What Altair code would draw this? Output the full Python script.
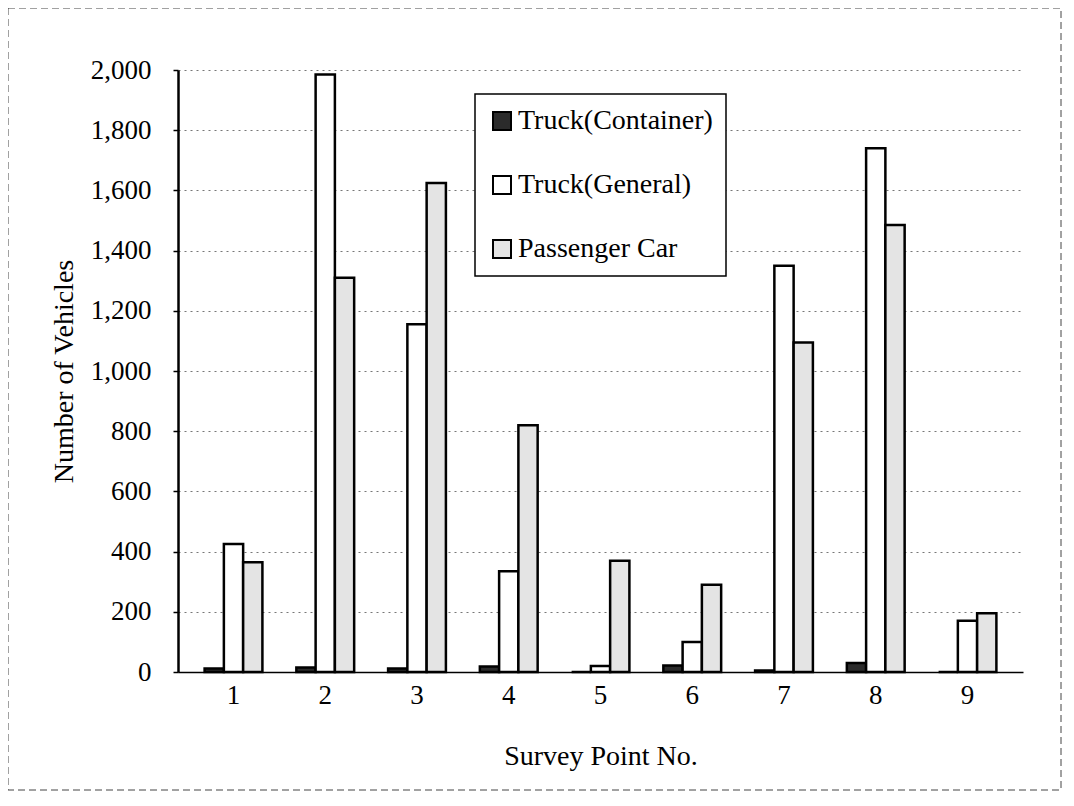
import altair as alt
import pandas as pd

points = ["1", "2", "3", "4", "5", "6", "7", "8", "9"]
series = ["Truck(Container)", "Truck(General)", "Passenger Car"]
container = [12, 15, 12, 18, 0, 22, 5, 30, 0]
general = [425, 1985, 1155, 335, 20, 100, 1350, 1740, 170]
passenger = [365, 1310, 1625, 820, 370, 290, 1095, 1485, 195]
y_ticks = [0, 200, 400, 600, 800, 1000, 1200, 1400, 1600, 1800, 2000]

rows = []
for i, p in enumerate(points):
    for s, vals in zip(series, [container, general, passenger]):
        rows.append({"point": p, "series": s, "value": vals[i]})
df = pd.DataFrame(rows)

W, H = 845, 602
serif = "Liberation Serif"

bars = alt.Chart(df).mark_bar(stroke="black", strokeWidth=2.5, strokeJoin="miter").encode(
    x=alt.X(
        "point:N",
        sort=points,
        scale=alt.Scale(paddingInner=0.37, paddingOuter=0.29),
        axis=alt.Axis(
            title="Survey Point No.",
            labelAngle=0,
            labelFont=serif,
            labelFontSize=27,
            labelColor="black",
            labelPadding=10,
            ticks=False,
            domainColor="black",
            domainWidth=1.5,
            titleFont=serif,
            titleFontSize=28,
            titleFontWeight="normal",
            titleColor="black",
            titlePadding=34,
        ),
    ),
    xOffset=alt.XOffset("series:N", sort=series, scale=alt.Scale(paddingInner=0, paddingOuter=0)),
    y=alt.Y(
        "value:Q",
        scale=alt.Scale(domain=[0, 2000], nice=False),
        axis=alt.Axis(
            title="Number of Vehicles",
            values=y_ticks,
            format=",.0f",
            labelFont=serif,
            labelFontSize=27,
            labelColor="black",
            labelPadding=22,
            tickColor="black",
            tickSize=5,
            tickWidth=1.5,
            domainColor="black",
            domainWidth=2.5,
            grid=True,
            gridColor="#777777",
            gridDash=[2, 4],
            gridWidth=1,
            titleFont=serif,
            titleFontSize=28,
            titleFontWeight="normal",
            titleColor="black",
            titlePadding=12,
        ),
    ),
    color=alt.Color(
        "series:N",
        sort=series,
        scale=alt.Scale(domain=series, range=["#2b2b2b", "#ffffff", "#e4e4e4"]),
        legend=alt.Legend(
            title=None,
            orient="none",
            legendX=297,
            legendY=24,
            labelFont=serif,
            labelFontSize=28,
            labelColor="black",
            labelOffset=2,
            labelLimit=400,
            symbolType="square",
            symbolSize=324,
            symbolStrokeColor="black",
            symbolStrokeWidth=2,
            rowPadding=36,
            padding=13,
            strokeColor="black",
            fillColor="white",
        ),
    ),
)

frame = alt.Chart(alt.Data(values=[{"a": 1}])).mark_rect(
    fillOpacity=0, stroke="#444444", strokeDash=[7, 4], strokeWidth=1, clip=False
).encode(
    x=alt.value(-170),
    x2=alt.value(W + 38),
    y=alt.value(-62),
    y2=alt.value(H + 118),
)

chart = alt.layer(frame, bars).properties(
    width=W,
    height=H,
    padding={"left": 170, "top": 62, "right": 40, "bottom": 120},
    autosize=alt.AutoSizeParams(type="none"),
    background="white",
).configure_view(strokeWidth=0).configure_legend(strokeWidth=1.5)

chart.save("out.html", embed_options={"renderer": "svg", "actions": False})
